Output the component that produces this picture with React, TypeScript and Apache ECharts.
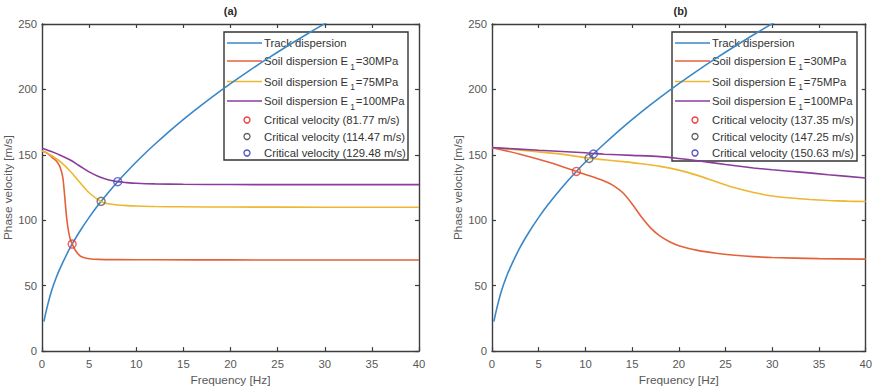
import React, { useEffect, useRef } from "react";
import * as echarts from "echarts";

// ---------- data ----------
const xTicks = [0, 5, 10, 15, 20, 25, 30, 35, 40];
const yTicks = [0, 50, 100, 150, 200, 250];

const trackFreq = [0.2, 0.5, 1, 1.5, 2, 3, 4, 5, 6, 7, 8, 9, 10, 11, 12, 14, 16, 18, 20, 22, 24, 26, 28, 30, 31];
const trackVel = [22.6, 32.3, 45.7, 56, 64.6, 79.2, 91.4, 102.2, 112, 120.9, 129.3, 137.1, 144.5, 151.6, 158.3, 171, 182.8, 193.9, 204.4, 214.4, 223.9, 233, 241.8, 250.3, 254.4];

// (a)
const soilA30Freq = [0, 0.5, 1, 1.5, 1.9, 2.2, 2.4, 2.6, 2.8, 3.0, 3.2, 3.5, 4, 4.5, 5, 6, 8, 12, 20, 30, 40];
const soilA30Vel = [153, 151.5, 148.5, 145.5, 141, 133, 119, 103, 92, 85.5, 82, 77.5, 73, 71.3, 70.6, 70.1, 69.9, 69.8, 69.7, 69.6, 69.6];
const soilA75Freq = [0, 0.5, 1, 2, 3, 4, 5, 6, 6.5, 7, 8, 9, 10, 12, 15, 20, 30, 40];
const soilA75Vel = [153, 151.5, 149.5, 144.5, 137.5, 129, 121, 115.5, 113.5, 112.6, 111.7, 111.2, 110.9, 110.5, 110.3, 110.1, 110, 110];
const soilA100Freq = [0, 1, 2, 3, 4, 5, 6, 7, 8, 9, 10, 12, 15, 20, 30, 40];
const soilA100Vel = [155, 152.5, 149.5, 146, 141.5, 137, 133.5, 131, 129.5, 128.8, 128.3, 127.8, 127.5, 127.3, 127.2, 127.2];
const critAFreq = [3.2, 6.27, 8.03];
const critAVel = [81.77, 114.47, 129.48];

// (b)
const soilB30Freq = [0, 3, 6, 9.03, 10, 11, 12, 13, 14, 15, 16, 17, 18, 19, 20, 22, 24, 26, 28, 30, 35, 40];
const soilB30Vel = [155.5, 150.5, 144.5, 137.35, 135, 132.6, 130, 126.5, 121, 112.5, 102.5, 94, 87.8, 83.6, 80.6, 77, 74.8, 73.3, 72.2, 71.5, 70.7, 70.3];
const soilB75Freq = [0, 4, 8, 10.38, 12, 14, 16, 18, 20, 22, 24, 26, 28, 30, 32, 34, 36, 38, 40];
const soilB75Vel = [155.5, 153, 150, 147.4, 146.2, 144.8, 143.2, 141.2, 138.3, 134.3, 129.5, 124.8, 121.2, 118.6, 117, 115.9, 115.1, 114.6, 114.3];
const soilB100Freq = [0, 5, 10, 11, 12, 15, 18, 20, 22, 25, 28, 30, 33, 36, 40];
const soilB100Vel = [155.5, 153.5, 151.6, 151, 150.5, 149.6, 148.6, 147.2, 145.5, 142.6, 140, 138.6, 136.8, 134.8, 132.3];
const critBFreq = [9.03, 10.38, 10.86];
const critBVel = [137.35, 147.25, 150.63];

const critALabels = ["Critical velocity (81.77 m/s)", "Critical velocity (114.47 m/s)", "Critical velocity (129.48 m/s)"];
const critBLabels = ["Critical velocity (137.35 m/s)", "Critical velocity (147.25 m/s)", "Critical velocity (150.63 m/s)"];
const soilModuli = ["30", "75", "100"];

// ---------- styles ----------
const FONT = "'Liberation Sans', Arial, Helvetica, sans-serif";
const C_TRACK = "#3a87c8";
const C_SOIL = ["#e4623a", "#efb631", "#8a3d9c"];
const C_CRIT = ["#e8383d", "#5e5e5e", "#4a4cbf"];
const AXIS_COLOR = "#3d3d3d";
const LABEL_COLOR = "#585858";

const pairs = (xs: number[], ys: number[]) => xs.map((x, i) => [x, ys[i]]);

function axesFor(grid: number) {
  const common = {
    gridIndex: grid,
    type: "value" as const,
    axisLine: { show: true, onZero: false, lineStyle: { color: AXIS_COLOR, width: 1.4 } },
    axisTick: { show: true, inside: true, length: 4, lineStyle: { color: AXIS_COLOR, width: 1.2 } },
    splitLine: { show: false },
  };
  const xa = [
    {
      ...common,
      position: "bottom",
      min: 0,
      max: 40,
      interval: 5,
      name: "Frequency [Hz]",
      nameLocation: "middle",
      nameGap: 21,
      nameTextStyle: { color: LABEL_COLOR, fontSize: 11.8, fontFamily: FONT },
      axisLabel: {
        color: LABEL_COLOR,
        fontSize: 11.3,
        fontFamily: FONT,
        margin: 7,
        formatter: (v: number) => (xTicks.includes(v) ? String(v) : ""),
      },
    },
    { ...common, position: "top", min: 0, max: 40, interval: 5, axisLabel: { show: false } },
  ];
  const ya = [
    {
      ...common,
      position: "left",
      min: 0,
      max: 250,
      interval: 50,
      name: "Phase velocity [m/s]",
      nameLocation: "middle",
      nameGap: 25,
      nameTextStyle: { color: LABEL_COLOR, fontSize: 11.8, fontFamily: FONT },
      axisLabel: {
        color: LABEL_COLOR,
        fontSize: 11.3,
        fontFamily: FONT,
        margin: 5,
        formatter: (v: number) => (yTicks.includes(v) ? String(v) : ""),
      },
    },
    { ...common, position: "right", min: 0, max: 250, interval: 50, axisLabel: { show: false } },
  ];
  return { xa, ya };
}

function seriesFor(
  grid: number,
  soil: [number[], number[]][],
  critF: number[],
  critV: number[],
  critNames: string[]
) {
  const xi = grid * 2;
  const yi = grid * 2;
  const out: any[] = [];
  out.push({
    type: "line",
    name: "Track dispersion",
    xAxisIndex: xi,
    yAxisIndex: yi,
    data: pairs(trackFreq, trackVel),
    showSymbol: false,
    symbol: "none",
    smooth: 0.3,
    lineStyle: { color: C_TRACK, width: 1.6 },
    z: 3,
  });
  soil.forEach(([f, v], i) => {
    out.push({
      type: "line",
      name: `Soil dispersion E1=${soilModuli[i]}MPa`,
      xAxisIndex: xi,
      yAxisIndex: yi,
      data: pairs(f, v),
      showSymbol: false,
      symbol: "none",
      smooth: 0.3,
      lineStyle: { color: C_SOIL[i], width: 1.6 },
      z: 3,
    });
  });
  critF.forEach((f, i) => {
    out.push({
      type: "scatter",
      name: critNames[i],
      xAxisIndex: xi,
      yAxisIndex: yi,
      data: [[f, critV[i]]],
      symbol: "circle",
      symbolSize: 8,
      itemStyle: { color: "rgba(0,0,0,0)", borderColor: C_CRIT[i], borderWidth: 1.4 },
      z: 5,
    });
  });
  return out;
}

function legendGraphic(x: number, y: number, w: number, h: number, critNames: string[]) {
  const rowsY = [11, 29, 49.5, 69, 88, 104.5, 121];
  const children: any[] = [
    {
      type: "rect",
      shape: { x: 0, y: 0, width: w, height: h },
      style: { fill: "#ffffff", stroke: "#333333", lineWidth: 1.4 },
    },
  ];
  const textStyle = { fill: "#333333", fontSize: 11.3, fontFamily: FONT };
  children.push({
    type: "line",
    shape: { x1: 3, y1: rowsY[0], x2: 38, y2: rowsY[0] },
    style: { stroke: C_TRACK, lineWidth: 1.6 },
  });
  children.push({
    type: "text",
    x: 40,
    y: rowsY[0],
    style: { ...textStyle, text: "Track dispersion", align: "left", verticalAlign: "middle" },
  });
  soilModuli.forEach((m, i) => {
    const ry = rowsY[i + 1];
    children.push({
      type: "line",
      shape: { x1: 3, y1: ry, x2: 38, y2: ry },
      style: { stroke: C_SOIL[i], lineWidth: 1.6 },
    });
    children.push({
      type: "text",
      x: 40,
      y: ry,
      style: {
        text: `{m|Soil dispersion E}{s|1}{m|=${m}MPa}`,
        align: "left",
        verticalAlign: "middle",
        rich: {
          m: { fill: "#333333", fontSize: 11.3, fontFamily: FONT, lineHeight: 20, verticalAlign: "middle" },
          s: { fill: "#333333", fontSize: 8.5, fontFamily: FONT, lineHeight: 20, verticalAlign: "bottom", padding: [0, 1, 0, 2] },
        },
      },
    });
  });
  critNames.forEach((n, i) => {
    const ry = rowsY[i + 4];
    children.push({
      type: "circle",
      shape: { cx: 23, cy: ry, r: 3 },
      style: { fill: "none", stroke: C_CRIT[i], lineWidth: 1.3 },
    });
    children.push({
      type: "text",
      x: 40,
      y: ry,
      style: { ...textStyle, text: n, align: "left", verticalAlign: "middle" },
    });
  });
  return { type: "group", x, y, z: 100, children };
}

export default function App() {
  const ref = useRef<HTMLDivElement>(null);
  useEffect(() => {
    if (!ref.current) return;
    const chart = echarts.init(ref.current, undefined, { renderer: "svg" });
    const a = axesFor(0);
    const b = axesFor(1);
    chart.setOption({
      animation: false,
      backgroundColor: "#ffffff",
      textStyle: { fontFamily: FONT },
      title: [
        {
          text: "(a)",
          left: 230.5,
          top: 5,
          textAlign: "center",
          padding: 0,
          textStyle: { fontSize: 11, fontWeight: "bold", color: "#2a2a2a", fontFamily: FONT },
        },
        {
          text: "(b)",
          left: 680.5,
          top: 5,
          textAlign: "center",
          padding: 0,
          textStyle: { fontSize: 11, fontWeight: "bold", color: "#2a2a2a", fontFamily: FONT },
        },
      ],
      grid: [
        { left: 42, top: 24, width: 377, height: 329, containLabel: false },
        { left: 492, top: 24, width: 377, height: 330, containLabel: false },
      ],
      xAxis: [...a.xa, ...b.xa],
      yAxis: [...a.ya, ...b.ya],
      series: [
        ...seriesFor(
          0,
          [
            [soilA30Freq, soilA30Vel],
            [soilA75Freq, soilA75Vel],
            [soilA100Freq, soilA100Vel],
          ],
          critAFreq,
          critAVel,
          critALabels
        ),
        ...seriesFor(
          1,
          [
            [soilB30Freq, soilB30Vel],
            [soilB75Freq, soilB75Vel],
            [soilB100Freq, soilB100Vel],
          ],
          critBFreq,
          critBVel,
          critBLabels
        ),
      ],
      graphic: [legendGraphic(224, 32, 184, 128, critALabels), legendGraphic(672, 32, 185, 129, critBLabels)],
    });
    return () => chart.dispose();
  }, []);
  return <div ref={ref} style={{ width: 875, height: 391, position: "absolute", left: 0, top: 0 }} />;
}
